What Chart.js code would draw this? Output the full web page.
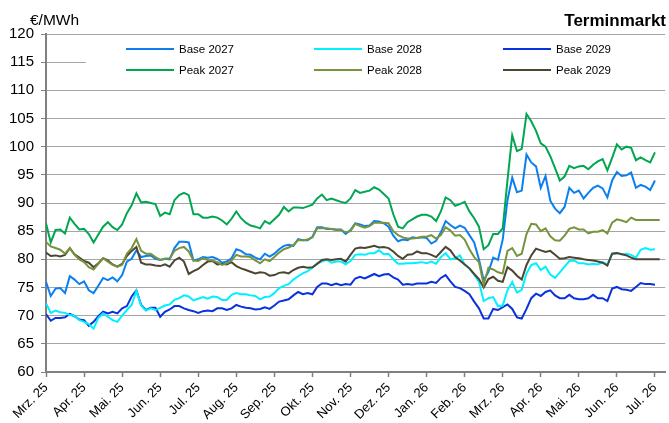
<!DOCTYPE html>
<html>
<head>
<meta charset="utf-8">
<script src="https://cdn.jsdelivr.net/npm/chart.js@4"></script>
<style>
  body { margin: 0; background: #fff; }
  #wrap { position: relative; width: 669px; height: 423px; font-family: "Liberation Sans", Arial, sans-serif; color: #000; }
  #unit { position: absolute; left: 30px; top: 12px; font-size: 15.5px; line-height: 1; }
  #title { position: absolute; right: 3px; top: 12px; font-size: 17px; font-weight: bold; line-height: 1; }
  #legend { position: absolute; left: 86px; top: 38px; width: 582px; height: 48px; background: #fff; }
  .item { position: absolute; font-size: 11.5px; line-height: 14px; height: 14px; white-space: nowrap; }
  .item .line { display: inline-block; width: 48px; height: 2px; margin-right: 5px; vertical-align: middle; position: relative; top: -1px; }
</style>
</head>
<body>
<div id="wrap">
  <canvas id="chart" width="669" height="423"></canvas>
  <div id="unit">€/MWh</div>
  <div id="title">Terminmarkt</div>
  <div id="legend"></div>
</div>
<script>
// DATA

const months = ["Mrz. 25", "Apr. 25", "Mai. 25", "Jun. 25", "Jul. 25", "Aug. 25", "Sep. 25", "Okt. 25",
  "Nov. 25", "Dez. 25", "Jan. 26", "Feb. 26", "Mrz. 26", "Apr. 26", "Mai. 26", "Jun. 26", "Jul. 26"];

// roughly two values per week, counted in months from Mrz. 25
const step = 0.125;

const base2027 = [76, 73.5, 74.8, 74.9, 74, 77, 76.4, 75.6, 76.1, 74.5,
  74, 75.3, 76.7, 76.3, 76.8, 76.1, 77.2, 79.6, 80.1, 81.6,
  80.4, 80.6, 80.7, 80.1, 79.9, 80.1, 80, 82, 83.1, 83.1,
  83, 79.8, 80, 80.4, 80.3, 80.4, 80.1, 79.4, 79.6, 80.2,
  81.8, 81.5, 80.9, 80.8, 80.3, 80, 81, 80.5, 81, 81.8,
  82.4, 82.6, 82.4, 83.6, 83.4, 83.4, 84, 85.7, 85.7, 85.4,
  85.4, 85.3, 85.3, 84.5, 85.2, 86.4, 86.2, 85.9, 86, 86.8,
  86.7, 86.4, 85.8, 84.2, 83.2, 83.5, 83.4, 83.9, 83.8, 83.9,
  83.8, 82.8, 83.3, 84.8, 86.8, 86.1, 85.5, 86, 85.6, 84.3,
  83, 80, 76.3, 77.8, 80.3, 79.9, 83.5, 90.5, 94.5, 91.9,
  92.2, 98.6, 97.2, 96.5, 92.7, 94.8, 90.4, 89, 88.2, 89.3,
  92.7, 91.8, 92.2, 90.8, 91.8, 92.7, 93.1, 92.6, 91, 94,
  95.5, 94.8, 94.9, 95.4, 92.7, 93.2, 92.9, 92.3, 94];

const base2028 = [72.2, 70.5, 70.9, 70.6, 70.5, 70.1, 70, 69.2, 68.9, 68.5,
  67.7, 69.6, 70.4, 69.8, 69.2, 68.9, 70, 71, 71.9, 74.4,
  71.8, 70.9, 71.3, 71, 71.4, 71.8, 72, 72.8, 73.1, 73.6,
  73.4, 72.7, 73, 73.3, 73, 73.4, 73.3, 72.8, 72.8, 73.7,
  74, 73.8, 73.8, 73.6, 73.5, 72.9, 73.3, 73.4, 74, 74.9,
  75.3, 75.6, 76.4, 77, 77.5, 77.9, 78.5, 79.3, 79.6, 79.9,
  79.4, 79.6, 79.6, 79.1, 79.7, 80.8, 80.9, 80.8, 81.1, 81.1,
  81.6, 80.9, 81, 80, 79.2, 79.2, 79.3, 79.3, 79.4, 79.5,
  79.3, 79.6, 79.2, 80.4, 81.1, 80, 80.2, 80.7, 79.1, 78.4,
  77.3, 76, 72.6, 73.1, 73.3, 71.7, 71.8, 74.5, 76, 74.1,
  74.6, 77.5, 79, 79.3, 78.1, 78.7, 77.3, 76.7, 77.7, 78.7,
  79.7, 79.8, 79.3, 79.3, 79.1, 79.2, 79.1, 79.5, 79.1, 81,
  81.1, 80.9, 81, 80.8, 80.3, 81.7, 82, 81.7, 81.8];

const base2029 = [70.3, 69.1, 69.6, 69.6, 69.7, 70.3, 69.9, 69.3, 69.2, 68.2,
  68.9, 69.9, 70.7, 70.4, 70.7, 70.4, 71.3, 71.7, 73.4, 74.5,
  71.9, 71, 71.4, 71.4, 69.8, 70.7, 71.1, 71.7, 71.7, 71.3,
  71, 70.8, 70.5, 70.8, 70.9, 70.8, 71.3, 71.3, 71, 71.3,
  71.9, 71.6, 71.4, 71.3, 71.1, 71.2, 71.5, 71.2, 71.8, 72.5,
  72.7, 72.9, 73.6, 74.2, 73.8, 74, 73.8, 75.1, 75.7, 75.7,
  75.4, 75.7, 75.4, 75.6, 75.5, 76.6, 76.9, 76.6, 77, 77.4,
  77, 77.3, 77.4, 76.8, 76.4, 75.5, 75.6, 75.5, 75.7, 75.7,
  75.7, 76, 75.8, 76.7, 77.2, 76.1, 75.1, 74.9, 74.4, 73.8,
  72.5, 71.3, 69.5, 69.5, 71.2, 71, 71.5, 72, 71.2, 69.7,
  69.5, 71.2, 73.1, 73.9, 73.5, 74.2, 74.5, 73.6, 73.1, 73.1,
  73.7, 73.1, 72.9, 72.9, 73.1, 73.7, 73.1, 73.1, 72.6, 74.8,
  75.1, 74.7, 74.6, 74.4, 75.1, 75.8, 75.6, 75.6, 75.5];

const peak2027 = [86.4, 83, 85.2, 85.3, 84.6, 87.4, 86.3, 85.3, 85.4, 84.5,
  83, 84.4, 85.8, 86.6, 85.7, 85.2, 86.2, 88.2, 89.6, 91.7,
  90.1, 90.2, 90, 89.8, 87.7, 88.3, 88, 90.5, 91.4, 91.8,
  91.4, 88, 88, 87.4, 87.4, 87.6, 87.4, 86.9, 86.2, 87.2,
  88.5, 87.3, 86.5, 86, 85.8, 85.5, 86.8, 86.3, 87.1, 87.9,
  89.3, 88.5, 89.2, 89.2, 89.1, 89.4, 89.7, 90.8, 91.5, 90.5,
  90.8, 90.5, 90.2, 90, 90.8, 92.3, 91.8, 92, 92.2, 92.8,
  92.4, 91.6, 90.8, 88, 85.8, 85.5, 86.6, 87.1, 87.6, 87.9,
  87.9, 87.6, 86.8, 88.5, 91, 90.5, 89.5, 89.8, 90.2, 88.5,
  87.3, 85.8, 81.8, 82.5, 84.5, 84.5, 85.5, 94, 102, 99.2,
  99.6, 105.8, 104.5, 102.8, 100.6, 100, 98.3, 96.2, 94, 94.7,
  96.6, 96.2, 96.5, 96.6, 96, 96.8, 97.4, 97.8, 95.8, 98,
  100.4, 99.5, 100, 99.8, 97.6, 98.1, 97.6, 97.2, 99];

const peak2028 = [83.1, 82.3, 82, 81.7, 81, 82, 80.8, 80, 79.5, 78.6,
  78.2, 79.2, 80.2, 79.6, 79, 78.7, 79, 81, 82, 83.6,
  81.5, 81, 81, 80.4, 79.9, 80.1, 80.2, 81.5, 82, 82.2,
  81.4, 79.8, 79.7, 80.2, 79.9, 79.8, 79.5, 79, 79.3, 79.8,
  80.8, 80.5, 80.5, 80.4, 79.8, 79.3, 80, 79.7, 80.4, 81.2,
  81.8, 82.1, 82.5, 83.4, 83.4, 83.5, 83.9, 85.5, 85.5, 85.5,
  85.4, 85.2, 85.2, 84.8, 85, 86.3, 85.9, 85.6, 85.9, 86.5,
  86.5, 86.5, 86.4, 85, 84.3, 83.9, 83.7, 83.7, 83.8, 84,
  84, 84.3, 83.7, 84.3, 85.7, 85.1, 84.2, 84.3, 83.5, 81.8,
  80.4, 79.5, 75.5, 78.5, 78.2, 77.7, 77.5, 81.5, 82, 80.6,
  81, 84.5, 86.3, 86.2, 85, 85.5, 84.1, 83.4, 83.3, 84.2,
  85.4, 85.7, 85.3, 85.3, 84.6, 84.9, 84.9, 85.2, 84.6, 86.5,
  87.1, 86.9, 86.6, 87.4, 87, 87, 87, 87, 87, 87];

const peak2029 = [81.2, 80.6, 80.7, 80.5, 80.8, 82, 80.9, 80.3, 79.7, 79.4,
  78.6, 79.3, 80.2, 79.8, 79.1, 78.7, 79.2, 80.6, 81.5, 82.2,
  79.4, 79.1, 79.1, 78.9, 78.8, 79.1, 78.7, 79.8, 80.3, 79.6,
  77.4, 77.9, 78.3, 79, 79.6, 79.7, 79.1, 79.2, 79.1, 79.5,
  78.8, 78.4, 78.1, 77.8, 77.5, 77.7, 77.6, 77.1, 77.2, 77.6,
  77.7, 77.5, 78.1, 78.5, 78.7, 78.5, 78.6, 79.2, 79.9, 80,
  79.9, 80, 80.1, 79.6, 80.8, 81.9, 82.1, 82, 82.2, 82.4,
  82.1, 82.2, 82, 81.4, 80.6, 80.1, 80.8, 80.9, 81.4, 81.1,
  81.1, 80.8, 80.4, 81.3, 82.2, 81.6, 80.4, 79.8, 79.1, 78.4,
  77.4, 76.5, 75, 76.5, 76.9, 76.2, 76, 78.6, 78, 77.1,
  76.4, 79, 80.7, 81.9, 81.6, 81.3, 81.5, 80.8, 80.1, 80.2,
  80.4, 80.3, 80.2, 80, 79.9, 79.8, 79.6, 79.4, 78.9, 81,
  81.1, 80.9, 80.7, 80.3, 80, 80, 80, 80, 80, 80];

const names = ["Base 2027", "Base 2028", "Base 2029", "Peak 2027", "Peak 2028", "Peak 2029"];
const values = [base2027, base2028, base2029, peak2027, peak2028, peak2029];
const colors = ["#0a7ff2", "#00f0ff", "#0a32dc", "#00a650", "#77933c", "#4b4532"];

const font = "'Liberation Sans', Arial, sans-serif";

// LEGEND (sits on a white box over the plot, as in the original)

const legendPos = [[40, 4], [228, 4], [417, 4], [40, 25], [228, 25], [417, 25]];
const legend = document.getElementById("legend");
names.forEach((n, i) => {
  const el = document.createElement("div");
  el.className = "item";
  el.style.left = legendPos[i][0] + "px";
  el.style.top = legendPos[i][1] + "px";
  el.innerHTML = '<span class="line" style="background:' + colors[i] + '"></span>' + n;
  legend.appendChild(el);
});

// CHART

const datasets = names.map((n, i) => ({
  label: n,
  data: values[i].map((v, k) => ({ x: k * step, y: v })),
  borderColor: colors[i],
  borderWidth: 2,
  pointRadius: 0,
  tension: 0,
  fill: false,
  order: i < 3 ? 2 : 1
}));

new Chart(document.getElementById("chart"), {
  type: "line",
  data: { datasets: datasets },
  options: {
    responsive: false,
    animation: false,
    devicePixelRatio: 1,
    layout: { padding: { top: 34, right: 1, left: 0, bottom: 0 } },
    plugins: {
      legend: { display: false },
      tooltip: { enabled: false }
    },
    scales: {
      x: {
        type: "linear",
        min: 0,
        max: 16.27,
        afterFit: s => { s.height = 51; },
        border: { color: "#808080", width: 2 },
        grid: { drawOnChartArea: false, drawTicks: true, tickLength: 5, tickColor: "#808080", tickWidth: 1.5 },
        ticks: {
          stepSize: 1,
          autoSkip: false,
          includeBounds: false,
          minRotation: 45,
          maxRotation: 45,
          padding: 3,
          color: "#000",
          font: { family: font, size: 13 },
          callback: v => months[v] ?? ""
        }
      },
      y: {
        min: 60,
        max: 120,
        afterFit: s => { s.width = 46; },
        border: { color: "#808080", width: 2 },
        grid: { color: "#a6a6a6", lineWidth: 1, tickLength: 5, tickColor: "#808080" },
        ticks: {
          stepSize: 5,
          padding: 7,
          color: "#000",
          font: { family: font, size: 15 }
        }
      }
    }
  }
});
</script>
</body>
</html>
